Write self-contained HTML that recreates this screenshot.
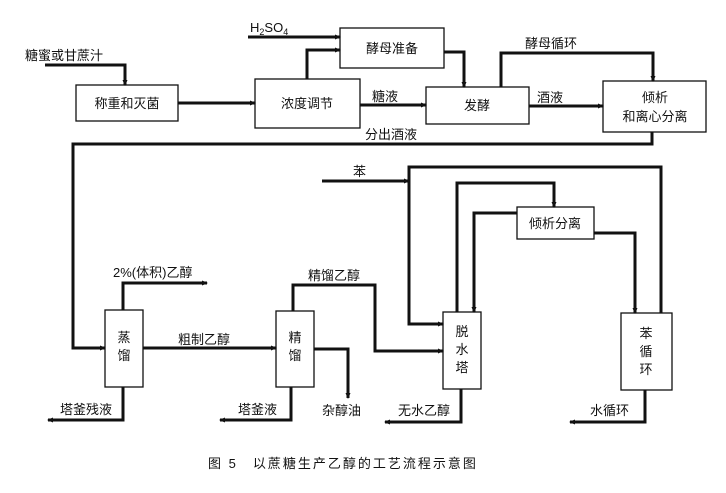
<!DOCTYPE html>
<html><head><meta charset="utf-8"><style>
html,body{margin:0;padding:0;background:#fff;}
svg{display:block;}
text{font-family:"Liberation Sans","Noto Sans CJK SC",sans-serif;font-size:13px;fill:#111;}
.b{fill:#fff;stroke:#111;stroke-width:1.3;}
.l{fill:none;stroke:#111;stroke-width:3;}
</style></head><body>
<svg width="726" height="493" viewBox="0 0 726 493" xmlns="http://www.w3.org/2000/svg">
<defs><marker id="a" markerWidth="6" markerHeight="6" refX="5" refY="3" orient="auto" markerUnits="userSpaceOnUse"><path d="M0,0.5 L6,3 L0,5.5z" fill="#111"/></marker></defs>
<!-- top boxes -->
<rect class="b" x="76" y="85" width="102" height="36"/>
<rect class="b" x="255" y="79" width="105" height="49"/>
<rect class="b" x="340" y="28" width="104" height="40"/>
<rect class="b" x="426" y="87" width="103" height="37"/>
<rect class="b" x="603" y="81" width="103" height="51"/>
<text x="127" y="108" text-anchor="middle">称重和灭菌</text>
<text x="307" y="108" text-anchor="middle">浓度调节</text>
<text x="392" y="53" text-anchor="middle">酵母准备</text>
<text x="477" y="110" text-anchor="middle">发酵</text>
<text x="655" y="102" text-anchor="middle">倾析</text>
<text x="655" y="121" text-anchor="middle">和离心分离</text>
<!-- top lines -->
<path class="l" d="M45,65 H125 V85" marker-end="url(#a)"/>
<path class="l" d="M178,103 H255" marker-end="url(#a)"/>
<path class="l" d="M307,79 V50 H340" marker-end="url(#a)"/>
<path class="l" d="M248,37 H340" marker-end="url(#a)"/>
<path class="l" d="M444,52 H464 V87" marker-end="url(#a)"/>
<path class="l" d="M360,105 H426" marker-end="url(#a)"/>
<path class="l" d="M529,106 H603" marker-end="url(#a)"/>
<path class="l" d="M501,87 V53 H653 V81" marker-end="url(#a)"/>
<path class="l" d="M652,132 V144 H73 V348 H105" marker-end="url(#a)"/>
<text x="25" y="60">糖蜜或甘蔗汁</text>
<text x="250" y="32">H<tspan font-size="9" dy="3">2</tspan><tspan dy="-3">SO</tspan><tspan font-size="9" dy="3">4</tspan></text>
<text x="372" y="101">糖液</text>
<text x="537" y="102">酒液</text>
<text x="525" y="48">酵母循环</text>
<text x="365" y="139">分出酒液</text>
<!-- bottom boxes -->
<rect class="b" x="105" y="310" width="38" height="77"/>
<rect class="b" x="276" y="311" width="38" height="76"/>
<rect class="b" x="443" y="312" width="38" height="77"/>
<rect class="b" x="517" y="207" width="77" height="32"/>
<rect class="b" x="621" y="313" width="51" height="77"/>
<text x="124" y="342" text-anchor="middle">蒸</text>
<text x="124" y="360" text-anchor="middle">馏</text>
<text x="295" y="342" text-anchor="middle">精</text>
<text x="295" y="360" text-anchor="middle">馏</text>
<text x="462" y="336" text-anchor="middle">脱</text>
<text x="462" y="354" text-anchor="middle">水</text>
<text x="462" y="372" text-anchor="middle">塔</text>
<text x="555" y="228" text-anchor="middle">倾析分离</text>
<text x="646" y="338" text-anchor="middle">苯</text>
<text x="646" y="356" text-anchor="middle">循</text>
<text x="646" y="374" text-anchor="middle">环</text>
<!-- bottom lines -->
<path class="l" d="M123,310 V283 H207" marker-end="url(#a)"/>
<path class="l" d="M143,348 H276" marker-end="url(#a)"/>
<path class="l" d="M123,387 V420 H48" marker-end="url(#a)"/>
<path class="l" d="M293,311 V285 H375 V351 H443" marker-end="url(#a)"/>
<path class="l" d="M314,349 H348 V398" marker-end="url(#a)"/>
<path class="l" d="M291,387 V420 H220" marker-end="url(#a)"/>
<path class="l" d="M322,181 H409" marker-end="url(#a)"/>
<path class="l" d="M661,313 V167 H409 V324 H443" marker-end="url(#a)"/>
<path class="l" d="M457,312 V183 H554 V207" marker-end="url(#a)"/>
<path class="l" d="M517,213 H474 V312" marker-end="url(#a)"/>
<path class="l" d="M594,233 H635 V313" marker-end="url(#a)"/>
<path class="l" d="M461,389 V422 H385" marker-end="url(#a)"/>
<path class="l" d="M645,390 V422 H570" marker-end="url(#a)"/>
<text x="113" y="277">2%(体积)乙醇</text>
<text x="178" y="344">粗制乙醇</text>
<text x="60" y="414">塔釜残液</text>
<text x="308" y="280">精馏乙醇</text>
<text x="238" y="414">塔釜液</text>
<text x="322" y="415">杂醇油</text>
<text x="353" y="176">苯</text>
<text x="398" y="415">无水乙醇</text>
<text x="590" y="415">水循环</text>
<text x="208" y="468" font-size="12" letter-spacing="2">图 5　以蔗糖生产乙醇的工艺流程示意图</text>
</svg>
</body></html>
